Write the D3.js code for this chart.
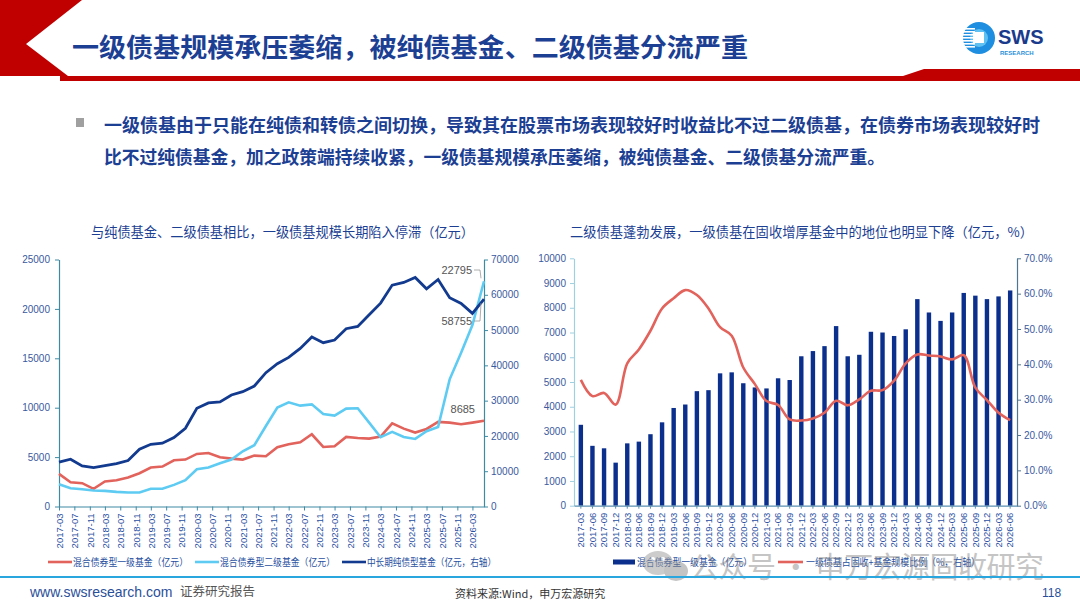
<!DOCTYPE html>
<html>
<head>
<meta charset="utf-8">
<script src="https://cdn.jsdelivr.net/npm/d3@7"></script>
<style>
body{margin:0;background:#fff;}
svg{display:block;}
.cn{font-family:"Noto Sans CJK SC","Noto Sans",sans-serif;}
.num{font-family:"Liberation Sans",Arial,sans-serif;}
</style>
</head>
<body>
<svg id="page" width="1080" height="608"></svg>
<script>
// donnees - graphique gauche (trimestriel)
var quarters = ["2017-03","2017-06","2017-09","2017-12","2018-03","2018-06","2018-09","2018-12",
"2019-03","2019-06","2019-09","2019-12","2020-03","2020-06","2020-09","2020-12",
"2021-03","2021-06","2021-09","2021-12","2022-03","2022-06","2022-09","2022-12",
"2023-03","2023-06","2023-09","2023-12","2024-03","2024-06","2024-09","2024-12",
"2025-03","2025-06","2025-09","2025-12","2026-03","2026-06"];

var firstLevel = [3300,2460,2360,1790,2530,2660,2930,3370,3940,4040,4680,4750,5320,5420,4990,4850,
4750,5150,5090,6000,6300,6500,7310,6030,6100,7040,6940,6870,7080,8420,7880,7480,7850,8560,8490,8320,8490,8685];

var secondLevel = [2260,1850,1750,1620,1580,1480,1420,1420,1790,1790,2190,2660,3770,3940,4380,4750,
5590,6200,8150,10010,10550,10210,10340,9370,9200,9910,9940,8490,7010,7550,7040,6840,7620,8050,12870,15570,18360,22795];

var pureBond = [12550,13400,11510,11040,11600,12170,13020,16230,17640,17930,19530,22170,27830,29340,29620,31600,
32550,34150,37930,40470,42260,44810,48020,46420,47170,50380,51040,54340,57640,62740,63490,64910,61700,64340,59150,57550,54720,58755];

var leftTicksL = [0,5000,10000,15000,20000,25000];
var leftTicksR = [0,10000,20000,30000,40000,50000,60000,70000];
var leftXLabels = ["2017-03","2017-07","2017-11","2018-03","2018-07","2018-11","2019-03","2019-07","2019-11",
"2020-03","2020-07","2020-11","2021-03","2021-07","2021-11","2022-03","2022-07","2022-11",
"2023-03","2023-07","2023-11","2024-03","2024-07","2024-11","2025-03","2025-07","2025-11","2026-03"];

// donnees - graphique droit
var firstLevelBars = [3270,2420,2320,1740,2520,2590,2890,3370,3950,4090,4630,4670,5350,5390,4950,4780,
4740,5150,5080,6040,6250,6450,7260,6040,6100,7030,7000,6860,7130,8350,7810,7470,7810,8600,8490,8350,8460,8700];

var shareRatio = [35.6,31.0,31.9,28.6,40.3,44.2,49.5,55.8,58.7,61.0,59.6,55.8,50.5,48.1,39.1,34.4,
29.6,28.5,24.4,24.1,24.7,26.3,29.7,28.4,30.1,32.5,32.7,35.4,40.3,42.8,42.5,42.2,41.4,42.6,33.4,29.9,26.3,24.2];

var rightTicksL = [0,1000,2000,3000,4000,5000,6000,7000,8000,9000,10000];
var rightTicksR = [0,10,20,30,40,50,60,70];

// couleurs
var navy = "#123a8e";
var red = "#e2625c";
var sky = "#5ecbf3";
var textBlue = "#1c3f94";
var tickBlue = "#3a5a9e";

var svg = d3.select("#page");
var parse = d3.timeParse("%Y-%m");
var dates = quarters.map(parse);
var plain = d3.format("d");

// - en-tete

svg.append("polygon")
	.attr("points","0,0 82,0 26,44 68,76 0,76")
	.attr("fill","#c00000");

svg.append("polygon")
	.attr("points","60,76 1080,76 1080,81 60,81")
	.attr("fill","#c00000");

svg.append("polygon")
	.attr("points","903,76 924,69 1080,69 1080,76")
	.attr("fill","#c00000");

svg.append("text")
	.attr("class","cn")
	.attr("x",72).attr("y",57)
	.attr("font-size","26px").attr("font-weight","bold")
	.attr("fill",textBlue)
	.attr("textLength",676).attr("lengthAdjust","spacingAndGlyphs")
	.text("一级债基规模承压萎缩，被纯债基金、二级债基分流严重");

// logo
var logo = svg.append("g").attr("transform","translate(979,38)");
logo.append("circle").attr("r",16).attr("fill","#1e8ee0");
logo.append("circle").attr("r",9).attr("fill","#5fc0f2");
[-9,-6,-3,0,3,6,9].forEach(function(d){
	logo.append("rect").attr("x",-16).attr("y",d-1).attr("width",12).attr("height",1.6).attr("fill","#fff");
});
logo.append("rect").attr("x",-6).attr("y",-6).attr("width",11).attr("height",11).attr("fill","#fff");
svg.append("text").attr("class","num")
	.attr("x",998).attr("y",44).attr("font-size","20px").attr("font-weight","bold")
	.attr("fill","#1a3a8c").text("SWS");
svg.append("text").attr("class","num")
	.attr("x",1000).attr("y",55).attr("font-size","6px").attr("font-weight","bold")
	.attr("fill","#2a8fd8").text("RESEARCH");

// - texte

svg.append("rect").attr("x",76).attr("y",118).attr("width",8).attr("height",9).attr("fill","#a0a0a0");

svg.append("text").attr("class","cn")
	.attr("x",104).attr("y",132)
	.attr("font-size","18px").attr("font-weight","bold").attr("fill",textBlue)
	.attr("textLength",936).attr("lengthAdjust","spacingAndGlyphs")
	.text("一级债基由于只能在纯债和转债之间切换，导致其在股票市场表现较好时收益比不过二级债基，在债券市场表现较好时");

svg.append("text").attr("class","cn")
	.attr("x",104).attr("y",164)
	.attr("font-size","18px").attr("font-weight","bold").attr("fill",textBlue)
	.attr("textLength",781).attr("lengthAdjust","spacingAndGlyphs")
	.text("比不过纯债基金，加之政策端持续收紧，一级债基规模承压萎缩，被纯债基金、二级债基分流严重。");

svg.append("text").attr("class","cn")
	.attr("x",91).attr("y",237)
	.attr("font-size","13.5px").attr("fill",textBlue)
	.attr("textLength",383).attr("lengthAdjust","spacingAndGlyphs")
	.text("与纯债基金、二级债基相比，一级债基规模长期陷入停滞（亿元）");

svg.append("text").attr("class","cn")
	.attr("x",570).attr("y",237)
	.attr("font-size","13.5px").attr("fill",textBlue)
	.attr("textLength",463).attr("lengthAdjust","spacingAndGlyphs")
	.text("二级债基蓬勃发展，一级债基在固收增厚基金中的地位也明显下降（亿元，%）");

// - graphique gauche

var lx0 = 59, lx1 = 484, ly0 = 506.5, ly1 = 259.5;

var xL = d3.scaleTime()
	.domain([parse("2017-03"), parse("2026-06")])
	.range([lx0, lx1]);

var yLeft = d3.scaleLinear().domain([0,25000]).range([ly0, ly1]);
var yRight = d3.scaleLinear().domain([0,70000]).range([ly0, ly1]);

function styleAxis(g, color, size){
	g.select(".domain").attr("stroke",color).attr("stroke-width",1.2);
	g.selectAll(".tick line").attr("stroke",color);
	g.selectAll("text").attr("fill",tickBlue).attr("font-size",size)
		.attr("font-family","Liberation Sans, Arial, sans-serif");
}

svg.append("g")
	.attr("transform","translate("+lx0+",0)")
	.call(d3.axisLeft(yLeft).tickValues(leftTicksL).tickFormat(plain).tickSize(4).tickSizeOuter(0).tickPadding(5))
	.call(styleAxis,"#3f8aa3","10px");

svg.append("g")
	.attr("transform","translate("+lx1+",0)")
	.call(d3.axisRight(yRight).tickValues(leftTicksR).tickFormat(plain).tickSize(4).tickSizeOuter(0).tickPadding(3))
	.call(styleAxis,"#3f8aa3","10px");

var xAxisL = svg.append("g")
	.attr("transform","translate(0,"+ly0+")")
	.call(d3.axisBottom(xL).tickValues(leftXLabels.map(parse)).tickFormat(d3.timeFormat("%Y-%m")).tickSize(4).tickSizeOuter(0))
	.call(styleAxis,"#3f8aa3","9.5px");

xAxisL.selectAll("text")
	.attr("transform","rotate(-90)")
	.attr("x",-7).attr("y",0).attr("dy","0.35em")
	.style("text-anchor","end")
	.attr("fill","#2a50a2");

var lineLeft = d3.line()
	.x(function(d,i){return xL(dates[i]);})
	.y(function(d){return yLeft(d);});

var lineRight = d3.line()
	.x(function(d,i){return xL(dates[i]);})
	.y(function(d){return yRight(d);});

svg.append("path").datum(firstLevel)
	.attr("d",lineLeft).attr("fill","none").attr("stroke",red).attr("stroke-width",2.6);

svg.append("path").datum(secondLevel)
	.attr("d",lineLeft).attr("fill","none").attr("stroke",sky).attr("stroke-width",2.6);

svg.append("path").datum(pureBond)
	.attr("d",lineRight).attr("fill","none").attr("stroke",navy).attr("stroke-width",2.8);

// etiquettes
var last = quarters.length - 1;
var ex = xL(dates[last]);

svg.append("text").attr("class","num")
	.attr("x",472).attr("y",274).attr("text-anchor","end")
	.attr("font-size","11px").attr("fill","#555")
	.text(secondLevel[last]);
svg.append("polyline")
	.attr("points","474,270 480,270 "+(ex-3)+","+(yLeft(secondLevel[last])-3))
	.attr("fill","none").attr("stroke","#999").attr("stroke-width",0.8);

svg.append("text").attr("class","num")
	.attr("x",472).attr("y",325).attr("text-anchor","end")
	.attr("font-size","11px").attr("fill","#555")
	.text(pureBond[last]);
svg.append("polyline")
	.attr("points","474,321 480,321 "+(ex-3)+","+(yRight(pureBond[last])+4))
	.attr("fill","none").attr("stroke","#999").attr("stroke-width",0.8);

svg.append("text").attr("class","num")
	.attr("x",475).attr("y",413).attr("text-anchor","end")
	.attr("font-size","11px").attr("fill","#555")
	.text(firstLevel[last]);

// legende gauche
var legL = [
	{name:"混合债券型一级基金（亿元）", color:red, x:48, w:115},
	{name:"混合债券型二级基金（亿元）", color:sky, x:195, w:115},
	{name:"中长期纯债型基金（亿元，右轴）", color:navy, x:342, w:129}
];

var lg = svg.selectAll(".legL").data(legL).enter().append("g")
	.attr("transform",function(d){return "translate("+d.x+",562)";});
lg.append("line").attr("x1",0).attr("x2",24).attr("stroke",function(d){return d.color;}).attr("stroke-width",2.6);
lg.append("text").attr("class","cn").attr("x",25).attr("dy","0.35em")
	.attr("font-size","10px").attr("fill","#2850a0")
	.attr("textLength",function(d){return d.w;}).attr("lengthAdjust","spacingAndGlyphs")
	.text(function(d){return d.name;});

// - graphique droit

var rx0 = 574, rx1 = 1017, ry0 = 505.7, ry1 = 258.3;

var xR = d3.scaleBand()
	.domain(quarters)
	.range([rx0, rx1])
	.paddingInner(0.62)
	.paddingOuter(0.4);

var yBar = d3.scaleLinear().domain([0,10000]).range([ry0, ry1]);
var yPct = d3.scaleLinear().domain([0,70]).range([ry0, ry1]);

svg.append("g")
	.attr("transform","translate("+rx0+",0)")
	.call(d3.axisLeft(yBar).tickValues(rightTicksL).tickFormat(plain).tickSize(4).tickSizeOuter(0).tickPadding(4))
	.call(styleAxis,"#9fd0e2","10px");

svg.append("g")
	.attr("transform","translate("+rx1+",0)")
	.call(d3.axisRight(yPct).tickValues(rightTicksR).tickFormat(function(d){return d.toFixed(1)+"%";}).tickSize(4).tickSizeOuter(0).tickPadding(3))
	.call(styleAxis,"#4f7593","10px");

svg.selectAll(".bar").data(firstLevelBars).enter().append("rect")
	.attr("x",function(d,i){return xR(quarters[i]);})
	.attr("y",function(d){return yBar(d);})
	.attr("width",xR.bandwidth())
	.attr("height",function(d){return ry0 - yBar(d);})
	.attr("fill","#0b2f8c");

var xAxisR = svg.append("g")
	.attr("transform","translate(0,"+ry0+")")
	.call(d3.axisBottom(xR).tickSize(3).tickSizeOuter(0))
	.call(styleAxis,"#5b8fb0","9.5px");

xAxisR.selectAll("text")
	.attr("transform","rotate(-90)")
	.attr("x",-7).attr("y",0).attr("dy","0.35em")
	.style("text-anchor","end")
	.attr("fill","#2a50a2");

var ratioLine = d3.line()
	.x(function(d,i){return xR(quarters[i]) + xR.bandwidth()/2;})
	.y(function(d){return yPct(d);})
	.curve(d3.curveCatmullRom);

svg.append("path").datum(shareRatio)
	.attr("d",ratioLine).attr("fill","none").attr("stroke",red).attr("stroke-width",2.6);

// legende droite
var lr = svg.append("g").attr("transform","translate(613,562)");
lr.append("rect").attr("x",0).attr("y",-2.5).attr("width",22).attr("height",5).attr("fill","#0b2f8c");
lr.append("text").attr("class","cn").attr("x",24).attr("dy","0.35em")
	.attr("font-size","10px").attr("fill","#2850a0")
	.attr("textLength",115).attr("lengthAdjust","spacingAndGlyphs")
	.text("混合债券型一级基金（亿元）");
lr.append("line").attr("x1",165).attr("x2",190).attr("stroke",red).attr("stroke-width",2.6);
lr.append("text").attr("class","cn").attr("x",193).attr("dy","0.35em")
	.attr("font-size","10px").attr("fill","#2850a0")
	.attr("textLength",174).attr("lengthAdjust","spacingAndGlyphs")
	.text("一级债基占固收+基金规模比例（%，右轴）");

// - filigrane

var wm = svg.append("g").attr("opacity",0.5);
wm.append("ellipse").attr("cx",658).attr("cy",563).attr("rx",15).attr("ry",12).attr("fill","#9a9a9a");
wm.append("ellipse").attr("cx",676).attr("cy",571).attr("rx",12).attr("ry",10).attr("fill","#8a8a8a");
wm.append("circle").attr("cx",653).attr("cy",559).attr("r",2).attr("fill","#fff");
wm.append("circle").attr("cx",663).attr("cy",559).attr("r",2).attr("fill","#fff");
wm.append("text").attr("class","cn")
	.attr("x",690).attr("y",578)
	.attr("font-size","29px").attr("fill","#8c8c8c")
	.attr("textLength",354).attr("lengthAdjust","spacing")
	.text("公众号 · 申万宏源固收研究");

// - pied de page

svg.append("rect").attr("x",0).attr("y",576).attr("width",1080).attr("height",2).attr("fill","#2aa6de");

svg.append("text").attr("class","num")
	.attr("x",30).attr("y",597).attr("font-size","14px").attr("fill","#2a4f9a")
	.text("www.swsresearch.com");
svg.append("text").attr("class","cn")
	.attr("x",180).attr("y",596).attr("font-size","12.5px").attr("fill","#555")
	.text("证券研究报告");
svg.append("text").attr("class","cn")
	.attr("x",455).attr("y",598).attr("font-size","11px").attr("fill","#333")
	.text("资料来源:Wind，申万宏源研究");
svg.append("text").attr("class","num")
	.attr("x",1042).attr("y",597).attr("font-size","12px").attr("fill","#2a4f9a")
	.text("118");
</script>
</body>
</html>
